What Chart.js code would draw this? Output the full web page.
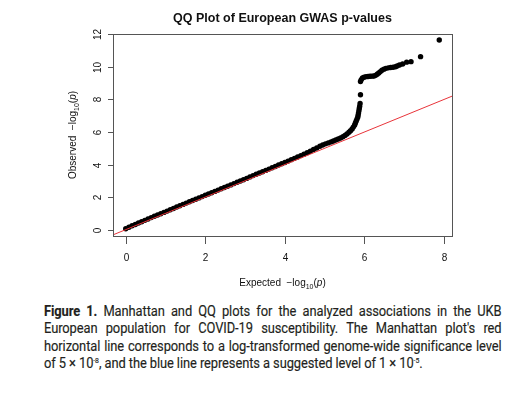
<!DOCTYPE html>
<html lang="en">
<head>
<meta charset="UTF-8">
<title>QQ Plot of European GWAS p-values</title>
<script src="https://cdn.jsdelivr.net/npm/chart.js"></script>
<style>
  body { margin: 0; background: #fff; width: 527px; height: 393px; position: relative; overflow: hidden; }
  #qq { position: absolute; left: 0; top: 0; }
  #caption {
    position: absolute; left: 44px; top: 303px; width: 532px;
    transform: scaleX(0.86); transform-origin: 0 0;
    font-family: "Roboto", "Liberation Sans", sans-serif;
    font-size: 15px; line-height: 17.4px; letter-spacing: -0.1px; color: #231f20;
    -webkit-text-stroke: 0.15px #231f20;
  }
  #caption .ln { text-align: justify; text-align-last: justify; white-space: nowrap; }
  #caption .last { text-align: left; text-align-last: left; }
  #caption sup { font-size: 8px; vertical-align: 5px; line-height: 0; }
</style>
</head>
<body>

<canvas id="qq" width="527" height="292"></canvas>

<div id="caption">
  <div class="ln"><b>Figure 1.</b> Manhattan and QQ plots for the analyzed associations in the UKB</div>
  <div class="ln">European population for COVID-19 susceptibility. The Manhattan plot's red</div>
  <div class="ln">horizontal line corresponds to a log-transformed genome-wide significance level</div>
  <div class="ln last">of 5 × 10<sup>-8</sup>, and the blue line represents a suggested level of 1 × 10<sup>-5</sup>.</div>
</div>

<script>
// expected -log10(p) values
var expected = [
  0.00, 0.08, 0.16, 0.24, 0.32, 0.40, 0.48, 0.56, 0.64, 0.72, 0.80, 0.88, 0.96, 1.04,
  1.12, 1.20, 1.28, 1.36, 1.44, 1.52, 1.60, 1.68, 1.76, 1.84, 1.92, 2.00, 2.08, 2.16,
  2.24, 2.32, 2.40, 2.48, 2.56, 2.64, 2.72, 2.80, 2.88, 2.96, 3.04, 3.12, 3.20, 3.28,
  3.36, 3.44, 3.52, 3.60, 3.68, 3.76, 3.84, 3.92, 4.00, 4.08, 4.16, 4.24, 4.32, 4.40,
  4.48, 4.56, 4.64, 4.72, 4.80, 4.88, 4.95, 5.02, 5.09, 5.16, 5.22, 5.28, 5.34, 5.40,
  5.46, 5.51, 5.56, 5.61, 5.65, 5.69, 5.72, 5.75, 5.77, 5.79, 5.81, 5.83, 5.84, 5.85,
  5.86, 5.87, 5.88, 5.89, 5.90,
  5.90, 5.92, 5.95, 5.99, 6.04, 6.09, 6.14, 6.19, 6.24, 6.28, 6.32, 6.36, 6.40, 6.44,
  6.49, 6.54, 6.60, 6.66, 6.72, 6.78, 6.82, 6.88, 6.96, 7.06, 7.17, 7.41, 7.88
];

// observed -log10(p) values, same order
var observed = [
  0.06, 0.15, 0.24, 0.32, 0.41, 0.49, 0.57, 0.65, 0.74, 0.82, 0.90, 0.98, 1.06, 1.14,
  1.22, 1.30, 1.39, 1.47, 1.55, 1.63, 1.71, 1.79, 1.87, 1.95, 2.03, 2.11, 2.19, 2.27,
  2.35, 2.43, 2.51, 2.59, 2.67, 2.75, 2.83, 2.91, 2.99, 3.07, 3.15, 3.24, 3.32, 3.40,
  3.48, 3.56, 3.64, 3.72, 3.80, 3.88, 3.97, 4.05, 4.13, 4.21, 4.30, 4.38, 4.46, 4.55,
  4.64, 4.73, 4.82, 4.92, 5.02, 5.12, 5.20, 5.27, 5.33, 5.39, 5.45, 5.51, 5.57, 5.63,
  5.71, 5.79, 5.88, 5.98, 6.08, 6.19, 6.30, 6.42, 6.54, 6.66, 6.78, 6.90, 7.03, 7.16,
  7.30, 7.44, 7.58, 7.75, 8.29,
  9.10, 9.22, 9.32, 9.37, 9.40, 9.41, 9.42, 9.43, 9.44, 9.48, 9.55, 9.63, 9.71, 9.79,
  9.86, 9.91, 9.94, 9.96, 9.98, 10.01, 10.05, 10.12, 10.18, 10.29, 10.32, 10.63, 11.65
];

// y = x reference line (clipped to the plot box)
var refLine = [-1, 9];

var xTicks = [0, 2, 4, 6, 8];
var yTicks = [0, 2, 4, 6, 8, 10, 12];

var plotTitle = 'QQ Plot of European GWAS p-values';
var xTitle = 'Expected';
var yTitle = 'Observed';

var qqPoints = expected.map(function (e, i) { return { x: e, y: observed[i] }; });
var refPoints = refLine.map(function (v) { return { x: v, y: v }; });

// "lead  -log10(p)" centred on x
function drawLogLabel(ctx, lead, x, y) {
    var f = '10px "Liberation Sans", Arial, sans-serif';
    var fs = '7px "Liberation Sans", Arial, sans-serif';
    var fi = 'italic 10px "Liberation Sans", Arial, sans-serif';
    var parts = [
        { t: lead + '  \u2212log', f: f, dy: 0 },
        { t: '10', f: fs, dy: 3 },
        { t: '(', f: f, dy: 0 },
        { t: 'p', f: fi, dy: 0 },
        { t: ')', f: f, dy: 0 }
    ];
    var w = 0;
    parts.forEach(function (p) { ctx.font = p.f; p.w = ctx.measureText(p.t).width; w += p.w; });
    var cx = x - w / 2;
    ctx.textAlign = 'left';
    ctx.textBaseline = 'alphabetic';
    parts.forEach(function (p) {
        ctx.font = p.f;
        ctx.fillText(p.t, cx, y + p.dy);
        cx += p.w;
    });
}

// R style box, ticks, labels and titles, placed with the chart scales
var rAxes = {
    id: 'rAxes',
    afterDraw: function (chart) {
        var ctx = chart.ctx;
        var a = chart.chartArea;
        var xs = chart.scales.x;
        var ys = chart.scales.y;
        ctx.save();
        ctx.strokeStyle = '#555';
        ctx.lineWidth = 1;
        ctx.strokeRect(Math.round(a.left) + 0.5, Math.round(a.top) + 0.5,
            Math.round(a.right - a.left), Math.round(a.bottom - a.top));

        ctx.fillStyle = '#111';
        ctx.font = '10px "Liberation Sans", Arial, sans-serif';
        ctx.textAlign = 'center';
        ctx.textBaseline = 'middle';
        xTicks.forEach(function (v) {
            var px = Math.round(xs.getPixelForValue(v)) + 0.5;
            ctx.beginPath();
            ctx.moveTo(px, a.bottom + 1);
            ctx.lineTo(px, a.bottom + 8);
            ctx.stroke();
            ctx.fillText(String(v), px, 258);
        });
        yTicks.forEach(function (v) {
            var py = Math.round(ys.getPixelForValue(v)) + 0.5;
            ctx.beginPath();
            ctx.moveTo(a.left - 5, py);
            ctx.lineTo(a.left, py);
            ctx.stroke();
            ctx.save();
            ctx.translate(98, py);
            ctx.rotate(-Math.PI / 2);
            ctx.fillText(String(v), 0, 0);
            ctx.restore();
        });

        var cx = (a.left + a.right) / 2;
        var cy = (a.top + a.bottom) / 2;
        ctx.font = 'bold 12.5px "Liberation Sans", Arial, sans-serif';
        ctx.textAlign = 'center';
        ctx.textBaseline = 'middle';
        ctx.fillText(plotTitle, cx, 19);

        drawLogLabel(ctx, xTitle, cx, 286);
        ctx.save();
        ctx.translate(76, cy);
        ctx.rotate(-Math.PI / 2);
        drawLogLabel(ctx, yTitle, 0, 0);
        ctx.restore();
        ctx.restore();
    }
};

var ctxQQ = document.getElementById('qq').getContext('2d');
var qqChart = new Chart(ctxQQ, {
    type: 'scatter',
    data: {
        datasets: [{
            data: refPoints,
            showLine: true,
            borderColor: '#e8343a',
            borderWidth: 1,
            pointRadius: 0,
            order: 0
        }, {
            data: qqPoints,
            backgroundColor: '#000',
            borderColor: '#000',
            borderWidth: 0,
            pointRadius: 2.7,
            order: 1
        }]
    },
    options: {
        responsive: false,
        animation: false,
        layout: { padding: { left: 113, right: 75, top: 34, bottom: 56 } },
        plugins: { legend: { display: false }, tooltip: { enabled: false } },
        scales: {
            x: { type: 'linear', display: false, min: -0.32, max: 8.2 },
            y: { type: 'linear', display: false, min: -0.39, max: 12.02 }
        }
    },
    plugins: [rAxes]
});
</script>

</body>
</html>
